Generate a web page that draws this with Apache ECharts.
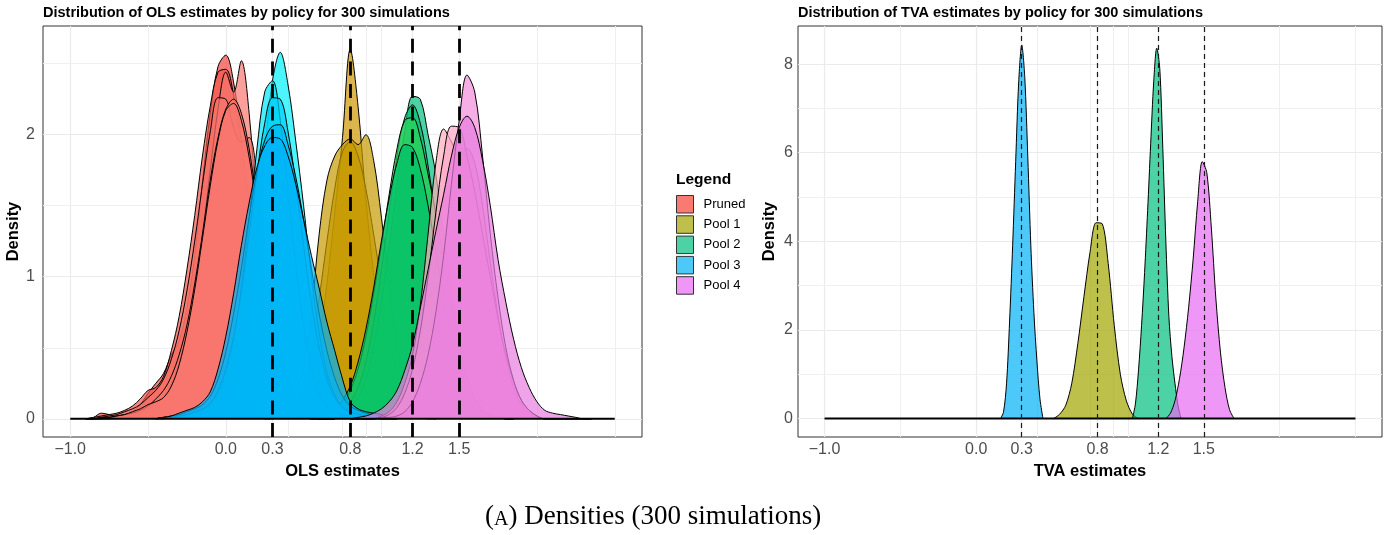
<!DOCTYPE html>
<html>
<head>
<meta charset="utf-8">
<script src="https://cdn.jsdelivr.net/npm/echarts@6/dist/echarts.min.js"></script>
<style>
html,body{margin:0;padding:0;background:#fff;}
#c{width:1388px;height:535px;}
</style>
</head>
<body>
<div id="c"></div>
<script>
// ---------- DATA ----------
const X_TICKS = [-1, 0, 0.3, 0.8, 1.2, 1.5];
const X_GRID_MINOR = [-0.5, 0.4, 0.75, 0.9, 1.0, 2.0, 2.5];
const TRUE_VALUES = [0.3, 0.8, 1.2, 1.5];
const OLS_Y_TICKS = [0, 1, 2];
const OLS_Y_MINOR = [0.5, 1.5, 2.5];
const TVA_Y_TICKS = [0, 2, 4, 6, 8];
const TVA_Y_MINOR = [1, 3, 5, 7];
const BASE_X = [-1, 2.5];
const LEGEND_NAMES = ['Pruned', 'Pool 1', 'Pool 2', 'Pool 3', 'Pool 4'];

// OLS densities (left panel)
const PRUNED_X = [-0.90,-0.85,-0.80,-0.75,-0.70,-0.65,-0.60,-0.55,-0.50,-0.45,-0.40,-0.35,-0.30,-0.25,-0.20,-0.15,-0.10,-0.05,0.00,0.05,0.10,0.15,0.20,0.25,0.30,0.35,0.40,0.45,0.50,0.55,0.60,0.65,0.70];
const PRUNED_B = [0,0.01,0.04,0.03,0.02,0.03,0.05,0.10,0.18,0.25,0.32,0.45,0.55,0.78,1.15,1.67,2.15,2.48,2.56,2.37,1.97,1.45,0.96,0.57,0.30,0.14,0.06,0.03,0.01,0,0,0,0];
const PRUNED_C = [0,0.01,0.02,0.03,0.04,0.06,0.09,0.14,0.20,0.22,0.30,0.48,0.72,1.05,1.43,1.85,2.20,2.44,2.46,2.28,1.95,1.55,1.12,0.75,0.45,0.25,0.12,0.05,0.02,0.01,0,0,0];
const PRUNED_D = [0,0,0,0,0.01,0.01,0.02,0.04,0.07,0.10,0.15,0.25,0.40,0.62,0.92,1.30,1.75,2.18,2.44,2.30,2.52,2.15,1.45,0.85,0.45,0.22,0.10,0.04,0.01,0,0,0,0];
const PRUNED_E = [0,0,0.01,0.02,0.03,0.05,0.07,0.10,0.15,0.20,0.28,0.42,0.62,0.90,1.25,1.65,2.02,2.26,2.25,2.05,1.95,1.98,1.70,1.20,0.75,0.42,0.20,0.08,0.03,0.01,0,0,0];
const PRUNED_F = [0,0,0,0.01,0.02,0.03,0.04,0.06,0.09,0.14,0.20,0.30,0.45,0.66,0.95,1.30,1.68,1.98,2.18,2.25,2.15,1.90,1.52,1.10,0.72,0.42,0.22,0.10,0.04,0.02,0.01,0,0];
const PRUNED_A = [0,0,0.01,0.01,0.02,0.03,0.05,0.07,0.10,0.12,0.15,0.23,0.38,0.61,0.91,1.27,1.64,1.96,2.17,2.22,2.10,1.84,1.49,1.12,0.79,0.50,0.30,0.16,0.08,0.04,0.02,0.01,0];

const POOL1_X = [0.25,0.30,0.35,0.40,0.45,0.50,0.55,0.60,0.65,0.70,0.75,0.80,0.85,0.90,0.95,1.00,1.05,1.10,1.15,1.20,1.25,1.30,1.35];
const POOL1_A = [0,0.01,0.02,0.04,0.07,0.12,0.25,0.55,0.95,1.45,1.98,2.60,2.20,1.55,1.02,0.60,0.30,0.13,0.05,0.02,0.01,0,0];
const POOL1_B = [0,0.01,0.02,0.05,0.12,0.26,0.50,0.85,1.25,1.62,1.88,1.95,1.85,1.62,1.30,0.95,0.60,0.33,0.15,0.06,0.02,0.01,0];
const POOL1_C = [0,0,0.03,0.08,0.18,0.38,0.75,1.30,1.68,1.85,1.93,1.97,1.93,2.00,1.82,1.42,0.95,0.52,0.25,0.10,0.04,0.01,0];

const POOL2_X = [0.55,0.60,0.65,0.70,0.75,0.80,0.85,0.90,0.95,1.00,1.05,1.10,1.15,1.20,1.25,1.30,1.35,1.40,1.45,1.50,1.55,1.60,1.65,1.70,1.75,1.80,1.85];
const POOL2_A = [0,0,0.01,0.02,0.04,0.08,0.15,0.28,0.50,0.82,1.22,1.65,2.02,2.27,2.25,2.00,1.72,1.30,0.90,0.55,0.30,0.15,0.07,0.03,0.01,0,0];
const POOL2_B = [0,0.01,0.02,0.03,0.06,0.12,0.22,0.40,0.68,1.05,1.45,1.85,2.12,2.21,2.08,1.78,1.40,1.00,0.65,0.38,0.20,0.10,0.05,0.02,0.01,0,0];
const POOL2_C = [0,0.01,0.03,0.05,0.10,0.20,0.35,0.58,0.88,1.22,1.58,1.90,2.10,2.12,1.98,1.72,1.45,1.12,0.80,0.50,0.28,0.14,0.06,0.02,0.01,0,0];
const POOL2_D = [0,0.01,0.03,0.06,0.13,0.23,0.40,0.63,0.92,1.25,1.55,1.80,1.93,1.91,1.76,1.50,1.18,0.85,0.58,0.36,0.21,0.11,0.05,0.02,0.01,0,0];

const POOL3_X = [-0.45,-0.40,-0.35,-0.30,-0.25,-0.20,-0.15,-0.10,-0.05,0.00,0.05,0.10,0.15,0.20,0.25,0.30,0.35,0.40,0.45,0.50,0.55,0.60,0.65,0.70,0.75,0.80,0.85,0.90,0.95,1.00,1.05,1.10];
const POOL3_A = [0,0,0.01,0.01,0.02,0.03,0.04,0.06,0.10,0.15,0.27,0.47,0.82,1.30,1.88,2.38,2.58,2.35,1.95,1.50,1.00,0.60,0.32,0.17,0.08,0.05,0.03,0.02,0.01,0,0,0];
const POOL3_B = [0,0.01,0.01,0.02,0.03,0.04,0.06,0.10,0.18,0.32,0.55,0.92,1.40,1.90,2.30,2.38,2.10,1.60,1.08,0.65,0.35,0.18,0.09,0.05,0.03,0.02,0.01,0,0,0,0,0];
const POOL3_C = [0,0.01,0.01,0.02,0.03,0.05,0.07,0.11,0.20,0.35,0.58,0.90,1.30,1.72,2.08,2.26,2.25,2.02,1.65,1.22,0.82,0.50,0.28,0.15,0.08,0.05,0.03,0.02,0.01,0,0,0];
const POOL3_D = [0,0.01,0.02,0.03,0.05,0.07,0.10,0.16,0.28,0.47,0.74,1.06,1.42,1.74,1.96,2.06,2.07,1.93,1.70,1.40,1.06,0.74,0.48,0.29,0.16,0.09,0.06,0.04,0.03,0.02,0.01,0];
const POOL3_E = [0,0.01,0.02,0.04,0.06,0.08,0.12,0.19,0.35,0.58,0.88,1.22,1.52,1.77,1.92,1.98,1.97,1.85,1.65,1.40,1.15,0.92,0.68,0.48,0.28,0.12,0.07,0.05,0.04,0.03,0.01,0];

const POOL4_X = [0.80,0.85,0.90,0.95,1.00,1.05,1.10,1.15,1.20,1.25,1.30,1.35,1.40,1.45,1.50,1.55,1.60,1.65,1.70,1.75,1.80,1.85,1.90,1.95,2.00,2.05,2.10,2.15,2.20,2.25,2.30,2.35];
const POOL4_A = [0,0,0,0,0.02,0.05,0.12,0.25,0.45,0.80,1.30,1.80,2.04,1.95,1.85,1.90,1.80,1.50,1.10,0.72,0.42,0.22,0.10,0.04,0.01,0,0,0,0,0,0,0];
const POOL4_B = [0,0,0,0,0.01,0.03,0.08,0.18,0.35,0.62,1.00,1.45,1.85,2.06,2.05,1.85,1.60,1.30,1.00,0.70,0.45,0.26,0.13,0.06,0.02,0,0,0,0,0,0,0];
const POOL4_C = [0,0,0,0,0.01,0.01,0.02,0.05,0.12,0.25,0.45,0.75,1.15,1.65,2.10,2.42,2.30,1.85,1.30,0.85,0.50,0.27,0.13,0.06,0.02,0,0,0,0,0,0,0];
const POOL4_D = [0,0.01,0.02,0.04,0.07,0.12,0.20,0.34,0.52,0.78,1.05,1.32,1.58,1.85,2.05,2.13,2.05,1.82,1.50,1.12,0.82,0.56,0.36,0.22,0.12,0.06,0.04,0.03,0.02,0.01,0,0];

// TVA densities (right panel)
const TVA_POOL1_X = [0.51,0.55,0.59,0.63,0.67,0.71,0.75,0.79,0.83,0.87,0.91,0.95,0.99,1.03,1.07];
const TVA_POOL1 = [0,0.10,0.30,0.80,1.70,2.75,3.75,4.42,4.40,3.50,2.10,1.00,0.40,0.10,0];
const TVA_POOL2_X = [1.03,1.05,1.07,1.09,1.11,1.13,1.15,1.17,1.19,1.21,1.23,1.25,1.27,1.29,1.31,1.33,1.35];
const TVA_POOL2 = [0,0.35,1.10,2.10,3.30,4.70,6.20,7.60,8.36,7.90,6.10,4.00,2.30,1.40,0.80,0.30,0];
const TVA_POOL3_X = [0.16,0.18,0.20,0.22,0.24,0.26,0.28,0.30,0.32,0.34,0.36,0.38,0.40,0.42,0.44];
const TVA_POOL3 = [0,0.15,0.80,2.20,3.90,5.80,7.60,8.43,7.70,5.90,3.90,2.40,1.30,0.45,0];
const TVA_POOL4_X = [1.25,1.28,1.31,1.34,1.37,1.40,1.43,1.46,1.49,1.52,1.55,1.58,1.61,1.64,1.67,1.70];
const TVA_POOL4 = [0,0.12,0.40,0.90,1.60,2.50,3.60,4.90,5.80,5.55,4.30,2.70,1.50,0.70,0.20,0];

// ---------- CHART ----------
const FONT = "'Liberation Sans', Arial, Helvetica, sans-serif";
const SERIF = "'Liberation Serif', 'DejaVu Serif', serif";
const chart = echarts.init(document.getElementById('c'), null, {renderer: 'canvas'});

let zCounter = 10;
function area(name, xs, ys, color, gi, smooth) {
  zCounter += 1;
  return {
    type: 'line', name: name, xAxisIndex: gi, yAxisIndex: gi,
    data: xs.map((x, i) => [x, ys[i]]),
    symbol: 'none', showSymbol: false, smooth: smooth,
    lineStyle: {color: '#000', width: 1},
    areaStyle: {color: color, opacity: 0.7},
    itemStyle: {color: color},
    z: zCounter, silent: true, emphasis: {disabled: true}, animation: false
  };
}

function fmtX(v) { return (v < 0 ? '\u2212' : '') + Math.abs(v).toFixed(1); }

function xAxis(gi, name) {
  return {
    type: 'value', gridIndex: gi, min: -1.175, max: 2.675,
    name: name, nameLocation: 'middle', nameGap: 21,
    nameTextStyle: {fontFamily: FONT, fontSize: 16.5, fontWeight: 'bold', color: '#000'},
    axisLine: {show: false},
    axisTick: {show: true, length: 4, lineStyle: {color: '#333', width: 1}, customValues: X_TICKS},
    axisLabel: {show: true, margin: 5, fontFamily: FONT, fontSize: 16, color: '#4D4D4D', customValues: X_TICKS, formatter: fmtX},
    splitLine: {show: false}, minorTick: {show: false}, minorSplitLine: {show: false}
  };
}

function yAxis(gi, min, max, ticks, margin, gap) {
  return {
    type: 'value', gridIndex: gi, min: min, max: max,
    name: 'Density', nameLocation: 'middle', nameGap: gap, nameRotate: 90,
    nameTextStyle: {fontFamily: FONT, fontSize: 16.5, fontWeight: 'bold', color: '#000'},
    axisLine: {show: false},
    axisTick: {show: true, length: 4, lineStyle: {color: '#333', width: 1}, customValues: ticks},
    axisLabel: {show: true, margin: margin, fontFamily: FONT, fontSize: 16, color: '#4D4D4D', customValues: ticks, formatter: v => String(v)},
    splitLine: {show: false}, minorTick: {show: false}, minorSplitLine: {show: false}
  };
}

function gridLines(gi, yMajor, yMinor) {
  const d = [];
  X_TICKS.forEach(v => d.push({xAxis: v, lineStyle: {color: '#EBEBEB', width: 1.2}}));
  X_GRID_MINOR.forEach(v => d.push({xAxis: v, lineStyle: {color: '#EFEFEF', width: 1}}));
  yMajor.forEach(v => d.push({yAxis: v, lineStyle: {color: '#EBEBEB', width: 1.2}}));
  yMinor.forEach(v => d.push({yAxis: v, lineStyle: {color: '#F0F0F0', width: 1}}));
  return {
    type: 'line', name: '_grid' + gi, xAxisIndex: gi, yAxisIndex: gi, data: [],
    symbol: 'none', silent: true, z: 1, animation: false,
    markLine: {silent: true, z: 1, symbol: ['none', 'none'], label: {show: false}, animation: false,
      lineStyle: {type: 'solid'}, emphasis: {disabled: true}, data: d}
  };
}

function baseline(gi, dash) {
  return {
    type: 'line', name: '_base' + gi, xAxisIndex: gi, yAxisIndex: gi,
    data: [[BASE_X[0], 0], [BASE_X[1], 0]],
    symbol: 'none', silent: true, z: 100, animation: false,
    lineStyle: {color: '#000', width: 2},
    markLine: {silent: true, z: 110, symbol: ['none', 'none'], label: {show: false}, animation: false,
      lineStyle: dash, emphasis: {disabled: true},
      data: TRUE_VALUES.map(v => ({xAxis: v}))}
  };
}

const S = 0.35;
const series = [
  gridLines(0, OLS_Y_TICKS, OLS_Y_MINOR),
  gridLines(1, TVA_Y_TICKS, TVA_Y_MINOR),
  // Pruned
  area('Pruned', PRUNED_X, PRUNED_B, '#F0463E', 0, S),
  area('Pruned', PRUNED_X, PRUNED_C, '#F2554C', 0, S),
  area('Pruned', PRUNED_X, PRUNED_D, '#F8766D', 0, S),
  area('Pruned', PRUNED_X, PRUNED_E, '#F8766D', 0, S),
  area('Pruned', PRUNED_X, PRUNED_F, '#F8766D', 0, S),
  area('Pruned', PRUNED_X, PRUNED_A, '#F8766D', 0, S),
  // Pool 1
  area('Pool 1', POOL1_X, POOL1_A, '#CD9600', 0, S),
  area('Pool 1', POOL1_X, POOL1_B, '#C49A00', 0, S),
  area('Pool 1', POOL1_X, POOL1_C, '#C49A00', 0, S),
  // Pool 2
  area('Pool 2', POOL2_X, POOL2_A, '#00BF7D', 0, S),
  area('Pool 2', POOL2_X, POOL2_B, '#00C070', 0, S),
  area('Pool 2', POOL2_X, POOL2_C, '#2ED158', 0, S),
  area('Pool 2', POOL2_X, POOL2_D, '#00C06A', 0, S),
  // Pool 3
  area('Pool 3', POOL3_X, POOL3_A, '#00F0FA', 0, S),
  area('Pool 3', POOL3_X, POOL3_B, '#00E6F8', 0, S),
  area('Pool 3', POOL3_X, POOL3_C, '#00CFF5', 0, S),
  area('Pool 3', POOL3_X, POOL3_D, '#00B8F4', 0, S),
  area('Pool 3', POOL3_X, POOL3_E, '#00B0F6', 0, S),
  // Pool 4
  area('Pool 4', POOL4_X, POOL4_A, '#FFAEBB', 0, S),
  area('Pool 4', POOL4_X, POOL4_B, '#FFA6C8', 0, S),
  area('Pool 4', POOL4_X, POOL4_C, '#F18BDB', 0, S),
  area('Pool 4', POOL4_X, POOL4_D, '#E87CE0', 0, S),
  baseline(0, {color: '#000', width: 2.8, type: [14, 8.6]}),
  // TVA
  area('Pool 1', TVA_POOL1_X, TVA_POOL1, '#A3A500', 1, 0.3),
  area('Pool 2', TVA_POOL2_X, TVA_POOL2, '#00BF7D', 1, 0.3),
  area('Pool 3', TVA_POOL3_X, TVA_POOL3, '#00B0F6', 1, 0.3),
  area('Pool 4', TVA_POOL4_X, TVA_POOL4, '#E76BF3', 1, 0.3),
  baseline(1, {color: '#1a1a1a', width: 1.2, type: [5, 4]})
];

const LEGEND_COLORS = ['#F97A72', '#BFC04C', '#4CD2A4', '#4CC8F9', '#EE97F7'];

const option = {
  backgroundColor: '#fff',
  animation: false,
  textStyle: {fontFamily: FONT},
  title: [
    {text: 'Distribution of OLS estimates by policy for 300 simulations', left: 43, top: 5, padding: 0,
     textStyle: {fontFamily: FONT, fontSize: 14.5, fontWeight: 'bold', color: '#000'}},
    {text: 'Distribution of TVA estimates by policy for 300 simulations', left: 798, top: 5, padding: 0,
     textStyle: {fontFamily: FONT, fontSize: 14.5, fontWeight: 'bold', color: '#000'}},
    {text: 'Legend', left: 676, top: 172, padding: 0,
     textStyle: {fontFamily: FONT, fontSize: 15.5, fontWeight: 'bold', color: '#000'}},
    {text: '{p|(}{s|A}{p|) Densities (300 simulations)}', left: 485, top: 500, padding: 0,
     textStyle: {fontFamily: SERIF, fontWeight: 'normal', rich: {
       p: {fontFamily: SERIF, fontWeight: 'normal', fontSize: 27, color: '#000', lineHeight: 30, verticalAlign: 'bottom'},
       s: {fontFamily: SERIF, fontWeight: 'normal', fontSize: 20, color: '#000', lineHeight: 30, verticalAlign: 'bottom'}
     }}}
  ],
  legend: {
    orient: 'vertical', left: 676, top: 195, padding: 0,
    icon: 'rect', itemWidth: 17, itemHeight: 17.5, itemGap: 1.8,
    selectedMode: false,
    textStyle: {fontFamily: FONT, fontSize: 13, color: '#000', padding: [0, 0, 0, 5]},
    data: LEGEND_NAMES.map((n, i) => ({name: n, icon: 'rect',
      itemStyle: {color: LEGEND_COLORS[i], borderColor: '#333', borderWidth: 1, opacity: 1}}))
  },
  grid: [
    {left: 43, top: 26, width: 599, height: 411, show: true, backgroundColor: '#fff', borderColor: '#333', borderWidth: 1},
    {left: 798, top: 26, width: 584, height: 411, show: true, backgroundColor: '#fff', borderColor: '#333', borderWidth: 1}
  ],
  xAxis: [xAxis(0, 'OLS estimates'), xAxis(1, 'TVA estimates')],
  yAxis: [yAxis(0, -0.128, 2.765, OLS_Y_TICKS, 8, 19), yAxis(1, -0.415, 8.86, TVA_Y_TICKS, 5, 20)],
  series: series
};
chart.setOption(option);
</script>
</body>
</html>
